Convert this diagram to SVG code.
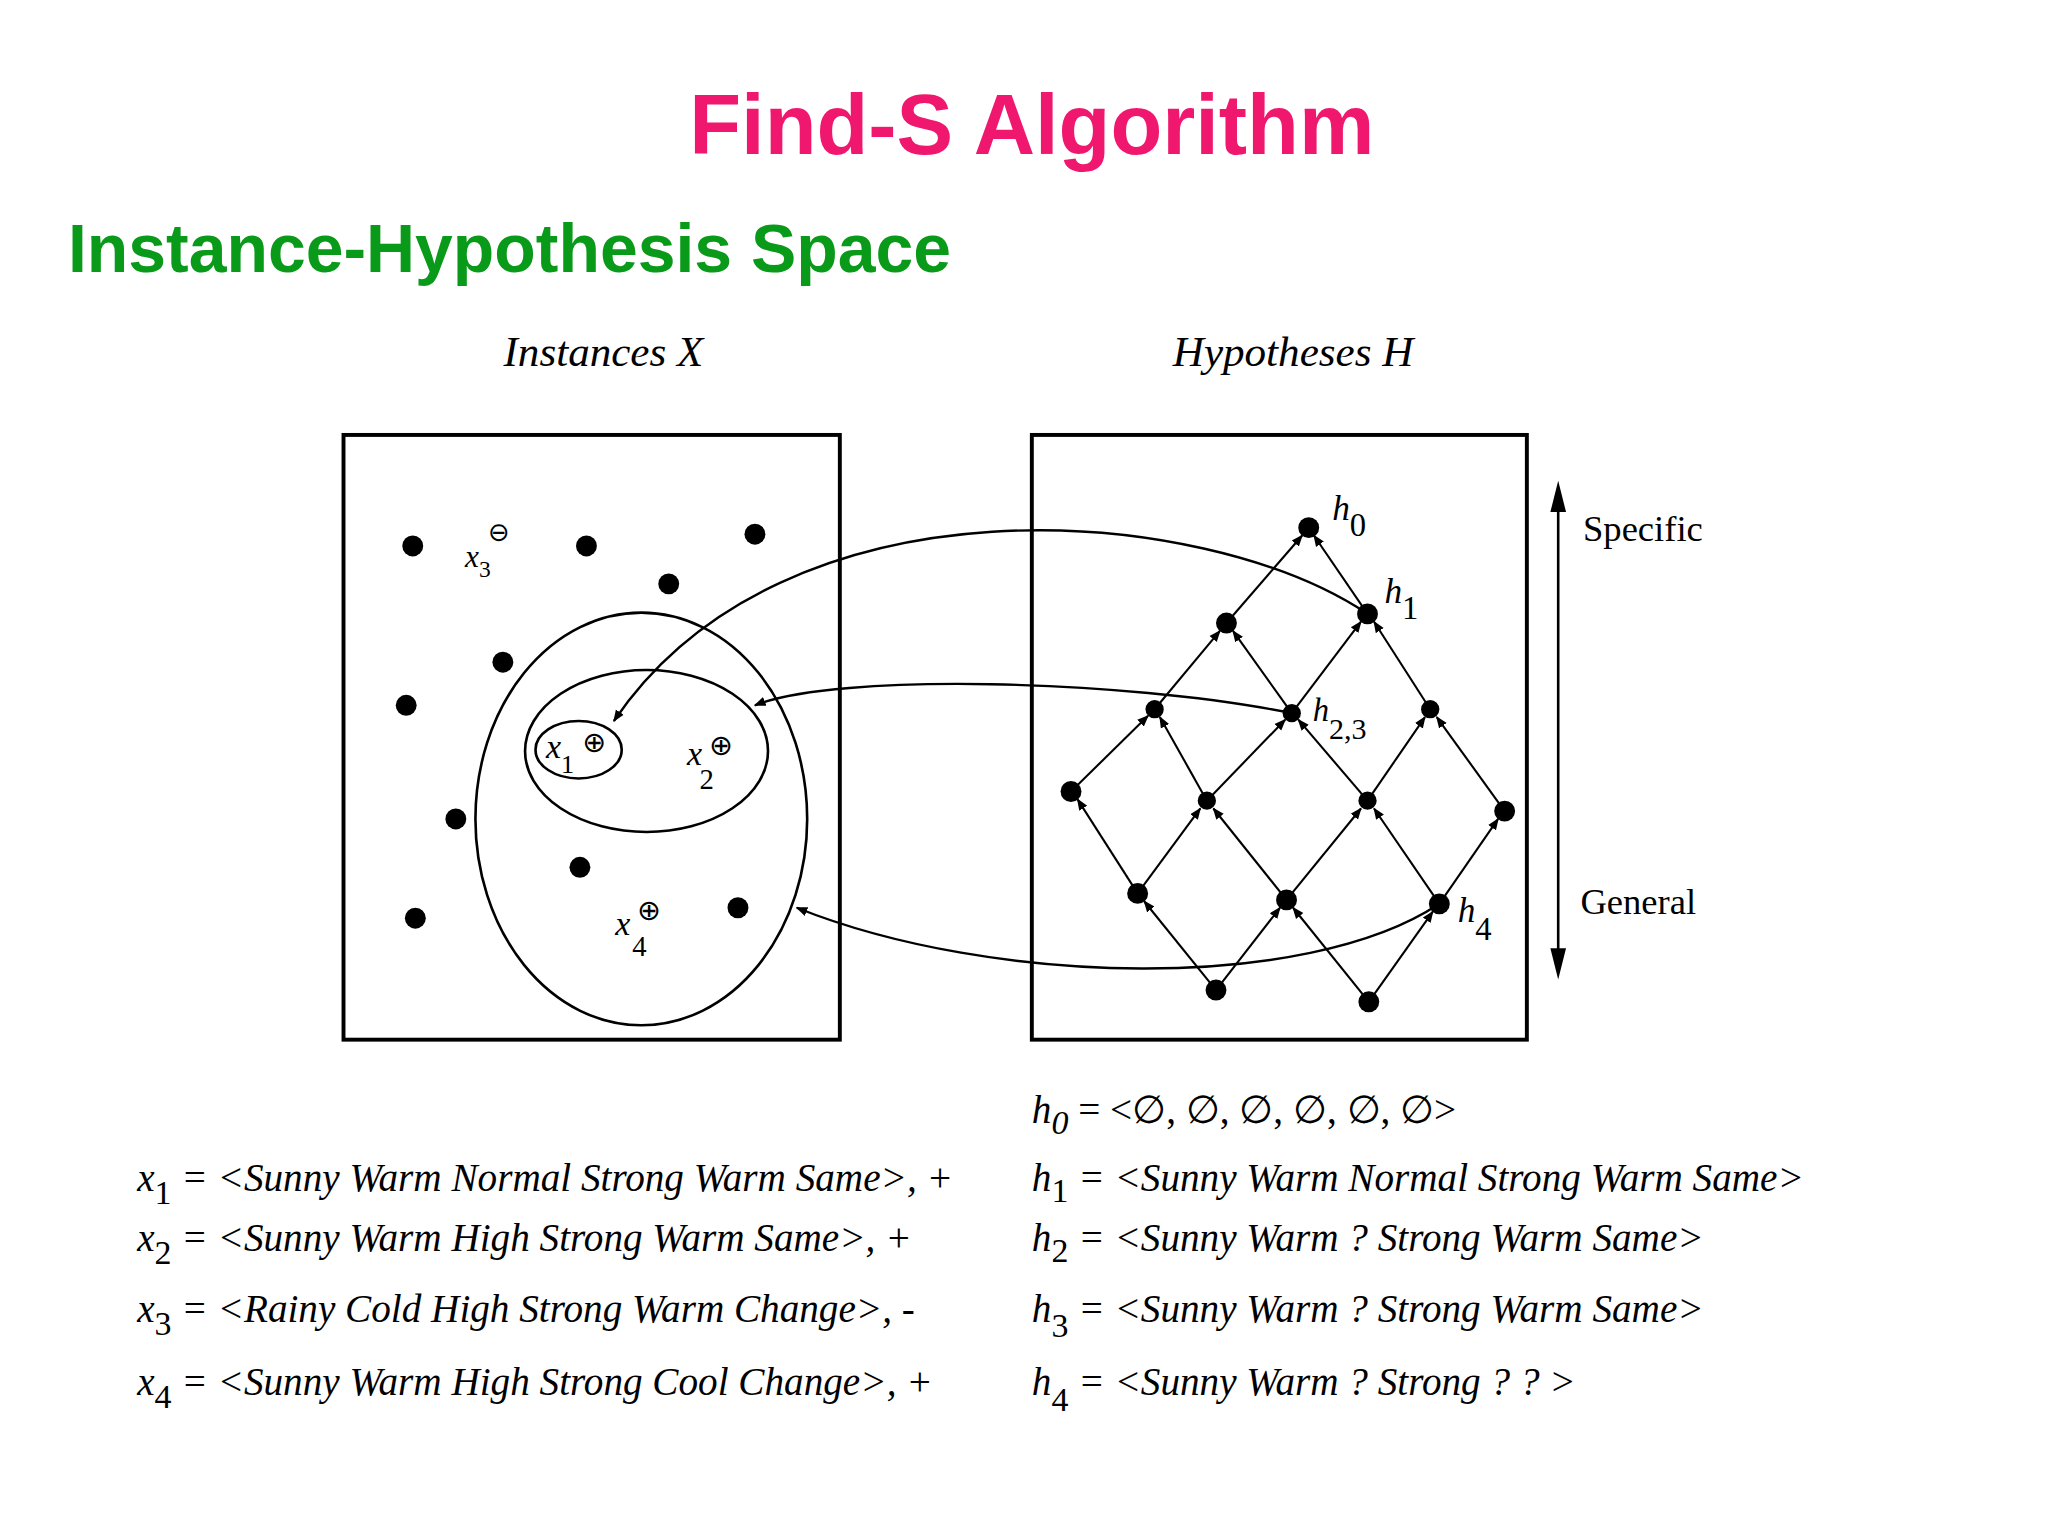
<svg xmlns="http://www.w3.org/2000/svg" width="2048" height="1536" viewBox="0 0 2048 1536">
<defs>
<marker id="ah" viewBox="0 0 10 10" refX="9" refY="5" markerWidth="9" markerHeight="9" markerUnits="userSpaceOnUse" orient="auto"><path d="M0,1 L10,5 L0,9 z" fill="#000"/></marker>
<style>
.t{font-family:"Liberation Serif",serif;font-style:italic;fill:#000}
.ln{stroke:#000;stroke-width:2;fill:none}
.bx{stroke:#000;stroke-width:3;fill:none}
.e{stroke:#000;stroke-width:1.6;fill:none;marker-end:url(#ah)}
.c{stroke:#000;stroke-width:1.8;fill:none;marker-end:url(#ah)}
.d{fill:#000}
</style>
</defs>
<rect width="2048" height="1536" fill="#fff"/>
<g transform="scale(1.30612)">
<g id="titles">
<text x="790" y="118" text-anchor="middle" font-family="Liberation Sans,sans-serif" font-weight="bold" font-size="65" fill="#f0186e">Find-S Algorithm</text>
<text x="52" y="208" font-family="Liberation Sans,sans-serif" font-weight="bold" font-size="52" fill="#0a9a1a">Instance-Hypothesis Space</text>
<text class="t" x="462" y="280" text-anchor="middle" font-size="33">Instances X</text>
<text class="t" x="990" y="280" text-anchor="middle" font-size="33">Hypotheses H</text>
</g>
<g id="instances">
<rect class="bx" x="263" y="333" width="380" height="463"/>
<g class="d">
<circle cx="316" cy="418" r="8"/><circle cx="449" cy="418" r="8"/><circle cx="578" cy="409" r="8"/><circle cx="512" cy="447" r="8"/><circle cx="385" cy="507" r="8"/><circle cx="311" cy="540" r="8"/><circle cx="349" cy="627" r="8"/><circle cx="444" cy="664" r="8"/><circle cx="318" cy="703" r="8"/><circle cx="565" cy="695" r="8"/>
</g>
<ellipse class="ln" cx="491" cy="627" rx="127" ry="158" stroke-width="2.5"/>
<ellipse class="ln" cx="495" cy="575" rx="93" ry="62" stroke-width="2.5"/>
<ellipse class="ln" cx="443" cy="574" rx="33" ry="22" stroke-width="2.5"/>
<text class="t" x="356" y="434" font-size="24">x<tspan font-style="normal" font-size="18" dy="8">3</tspan></text>
<text x="382" y="414" text-anchor="middle" font-family="DejaVu Sans,sans-serif" font-size="20">⊖</text>
<text class="t" x="418" y="580" font-size="26">x<tspan font-style="normal" font-size="20" dy="12">1</tspan></text>
<text x="455" y="576" text-anchor="middle" font-family="DejaVu Sans,sans-serif" font-size="22">⊕</text>
<text class="t" x="526" y="586" font-size="26">x<tspan font-style="normal" font-size="22" dy="18" dx="-2">2</tspan></text>
<text x="552" y="578" text-anchor="middle" font-family="DejaVu Sans,sans-serif" font-size="22">⊕</text>
<text class="t" x="471" y="716" font-size="26">x</text>
<text x="484" y="732" font-family="Liberation Serif,serif" font-size="22">4</text>
<text x="497" y="704" text-anchor="middle" font-family="DejaVu Sans,sans-serif" font-size="22">⊕</text>
</g>
<g id="hypotheses">
<rect class="bx" x="790" y="333" width="379" height="463"/>
<g class="d">
<circle cx="1002" cy="404" r="8"/><circle cx="1047" cy="470" r="8"/><circle cx="939" cy="477" r="8"/><circle cx="884" cy="543" r="7"/><circle cx="989" cy="546" r="7"/><circle cx="1095" cy="543" r="7"/><circle cx="820" cy="606" r="8"/><circle cx="924" cy="613" r="7"/><circle cx="1047" cy="613" r="7"/><circle cx="1152" cy="621" r="8"/><circle cx="871" cy="684" r="8"/><circle cx="985" cy="689" r="8"/><circle cx="1102" cy="692" r="8"/><circle cx="931" cy="758" r="8"/><circle cx="1048" cy="767" r="8"/>
</g>
<text class="t" x="1020" y="398" font-size="27">h<tspan font-style="normal" font-size="25" dy="12">0</tspan></text>
<text class="t" x="1060" y="462" font-size="27">h<tspan font-style="normal" font-size="25" dy="12">1</tspan></text>
<text class="t" x="1005" y="552" font-size="25">h<tspan font-style="normal" font-size="23" dy="14">2,3</tspan></text>
<text class="t" x="1116" y="706" font-size="27">h<tspan font-style="normal" font-size="25" dy="14">4</tspan></text>
<text x="1212" y="414" font-family="Liberation Serif,serif" font-size="28">Specific</text>
<text x="1210" y="700" font-family="Liberation Serif,serif" font-size="28">General</text>
</g>
<g id="connectors">
<g class="e">
<line x1="939" y1="477" x2="997" y2="410"/><line x1="1047" y1="470" x2="1006" y2="410"/>
<line x1="884" y1="543" x2="934" y2="483"/><line x1="989" y1="546" x2="944" y2="483"/>
<line x1="989" y1="546" x2="1042" y2="476"/><line x1="1095" y1="543" x2="1052" y2="476"/>
<line x1="820" y1="606" x2="879" y2="548"/><line x1="924" y1="613" x2="888" y2="549"/>
<line x1="924" y1="613" x2="984" y2="551"/><line x1="1047" y1="613" x2="994" y2="551"/>
<line x1="1047" y1="613" x2="1091" y2="549"/><line x1="1152" y1="621" x2="1100" y2="549"/>
<line x1="871" y1="684" x2="825" y2="612"/><line x1="871" y1="684" x2="919" y2="619"/>
<line x1="985" y1="689" x2="929" y2="619"/><line x1="985" y1="689" x2="1042" y2="619"/>
<line x1="1102" y1="692" x2="1052" y2="619"/><line x1="1102" y1="692" x2="1147" y2="627"/>
<line x1="931" y1="758" x2="876" y2="690"/><line x1="931" y1="758" x2="980" y2="695"/>
<line x1="1048" y1="767" x2="990" y2="695"/><line x1="1048" y1="767" x2="1097" y2="698"/>
</g>
<path class="c" d="M1047,470 C920,385 600,360 470,552"/>
<path class="c" d="M989,546 C860,520 640,515 578,540"/>
<path class="c" d="M1102,692 C1000,760 760,755 610,695"/>
<line class="ln" x1="1193" y1="385" x2="1193" y2="735"/>
<path d="M1193,368 L1187,392 L1199,392 z M1193,750 L1187,726 L1199,726 z" fill="#000"/>
</g>
<g id="formulas" class="t" font-size="30" xml:space="preserve">
<text x="790" y="860">h<tspan font-size="26" dy="8">0</tspan><tspan dy="-8" font-style="normal"> = &lt;∅, ∅, ∅, ∅, ∅, ∅&gt;</tspan></text>
<text x="105" y="912">x<tspan font-size="26" dy="10" font-style="normal">1</tspan><tspan dy="-10"> = &lt;Sunny Warm Normal Strong Warm Same&gt;, +</tspan></text>
<text x="105" y="958">x<tspan font-size="26" dy="10" font-style="normal">2</tspan><tspan dy="-10"> = &lt;Sunny Warm High  Strong Warm Same&gt;, +</tspan></text>
<text x="105" y="1012">x<tspan font-size="26" dy="10" font-style="normal">3</tspan><tspan dy="-10"> = &lt;Rainy Cold High Strong Warm Change&gt;, -</tspan></text>
<text x="105" y="1068">x<tspan font-size="26" dy="10" font-style="normal">4</tspan><tspan dy="-10"> = &lt;Sunny Warm High Strong Cool Change&gt;, +</tspan></text>
<text x="790" y="912">h<tspan font-size="26" dy="8" font-style="normal">1</tspan><tspan dy="-8"> = &lt;Sunny Warm Normal Strong Warm Same&gt;</tspan></text>
<text x="790" y="958">h<tspan font-size="26" dy="8" font-style="normal">2</tspan><tspan dy="-8"> = &lt;Sunny Warm  ?  Strong Warm Same&gt;</tspan></text>
<text x="790" y="1012">h<tspan font-size="26" dy="12" font-style="normal">3</tspan><tspan dy="-12"> = &lt;Sunny Warm ? Strong Warm Same&gt;</tspan></text>
<text x="790" y="1068">h<tspan font-size="26" dy="12" font-style="normal">4</tspan><tspan dy="-12"> = &lt;Sunny Warm  ?  Strong  ?  ? &gt;</tspan></text>
</g>
</g>
</svg>
